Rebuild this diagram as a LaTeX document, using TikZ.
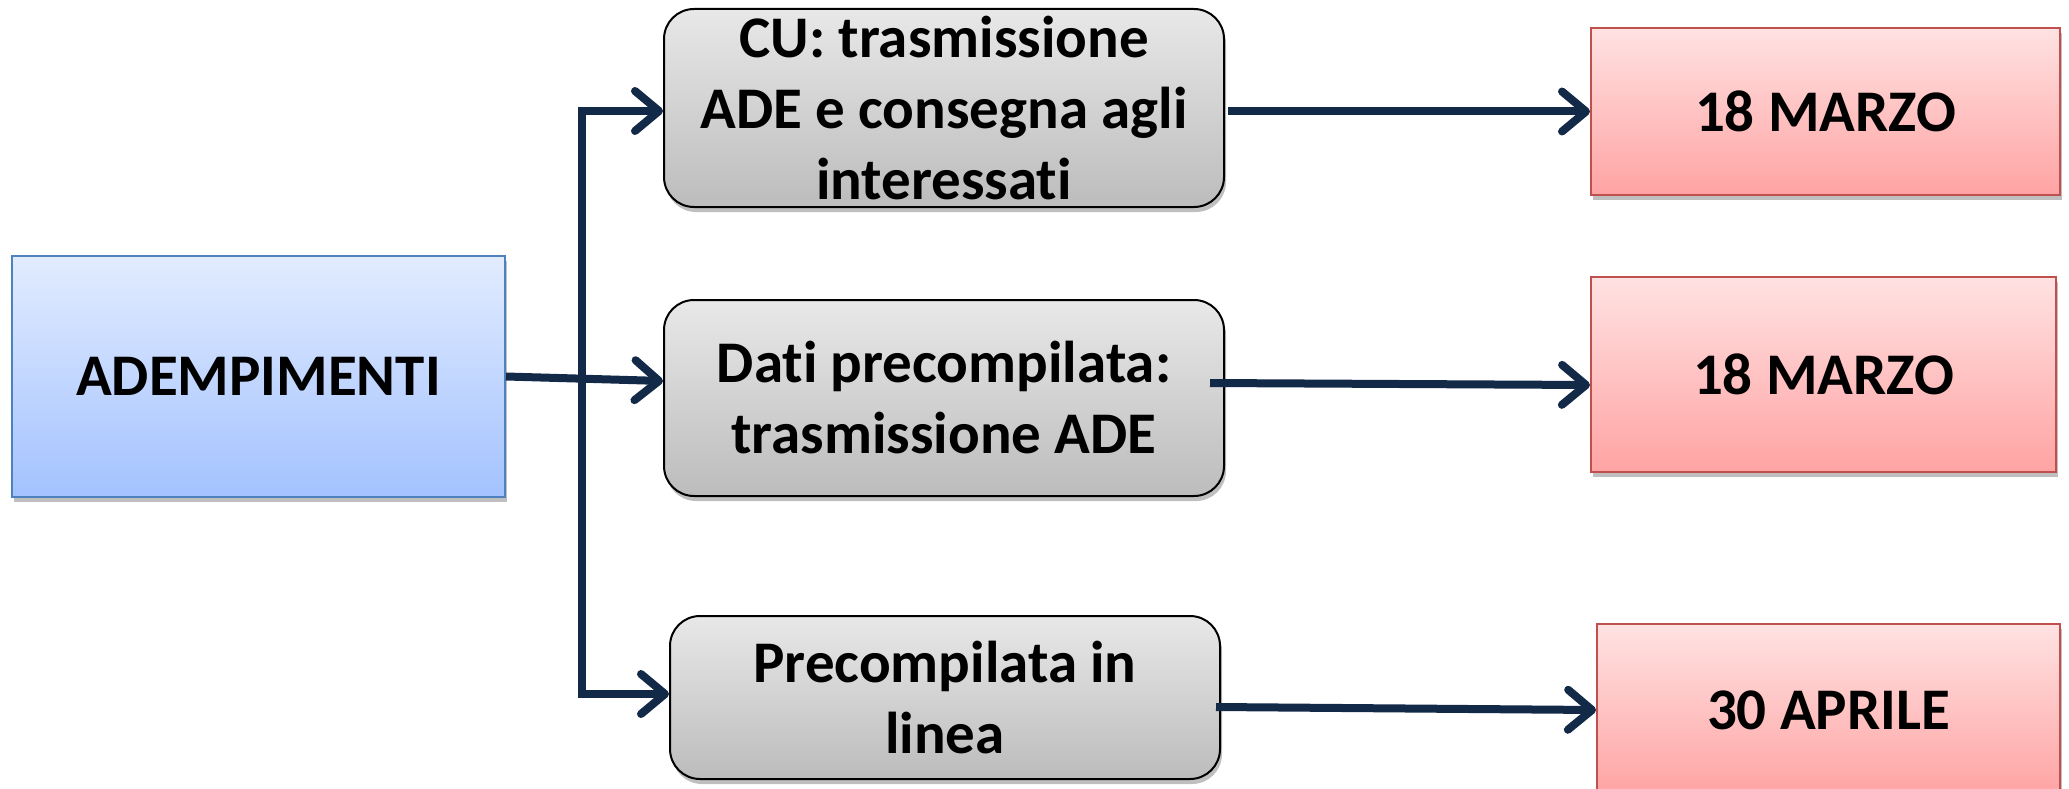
\documentclass[tikz,border=0pt]{standalone}
\usepackage{fontspec}
\setmainfont[Ligatures={NoCommon}]{Carlito}
\usetikzlibrary{arrows.meta,shadows}
\definecolor{navy}{RGB}{19,41,72}
\definecolor{bluetop}{RGB}{226,236,255}
\definecolor{bluebot}{RGB}{163,194,255}
\definecolor{blueline}{RGB}{79,129,189}
\definecolor{graytop}{RGB}{232,232,232}
\definecolor{graybot}{RGB}{188,188,188}
\definecolor{redtop}{RGB}{255,226,226}
\definecolor{redbot}{RGB}{255,163,163}
\definecolor{redline}{RGB}{192,80,77}
\tikzset{
  txt/.style={font=\bfseries\fontsize{59}{71}\selectfont, align=center, inner sep=0pt, text=black},
  shad/.style={drop shadow={shadow xshift=2pt, shadow yshift=-5pt, opacity=0.25, fill=black}},
  bluebox/.style={txt, shad, draw=blueline, line width=2pt, top color=bluetop, bottom color=bluebot},
  graybox/.style={txt, shad, draw=black, line width=2pt, rounded corners=30pt, top color=graytop, bottom color=graybot},
  redbox/.style={txt, shad, draw=redline, line width=2pt, top color=redtop, bottom color=redbot},
  conn/.style={draw=navy, line width=8pt},
  arr/.style={conn, -{Straight Barb[length=24pt,width=40pt,round]}}
}
\begin{document}
\begin{tikzpicture}[x=1pt,y=-1pt]
\useasboundingbox (0,0) rectangle (2069,789);
\node[bluebox, minimum width=493pt, minimum height=241pt] (A) at (258.5,376.5) {ADEMPIMENTI};
\node[graybox, minimum width=560pt, minimum height=198pt] (B1) at (944,108) {CU: trasmissione\\ADE e consegna agli\\interessati};
\node[graybox, minimum width=560pt, minimum height=196pt] (B2) at (944,398) {Dati precompilata:\\trasmissione ADE};
\node[graybox, minimum width=550pt, minimum height=163pt] (B3) at (945,697.5) {Precompilata in\\linea};
\node[redbox, minimum width=469pt, minimum height=167pt] (R1) at (1825.5,111.5) {18 MARZO};
\node[redbox, minimum width=465pt, minimum height=195pt] (R2) at (1823.5,374.5) {18 MARZO};
\node[redbox, minimum width=463pt, minimum height=172pt] (R3) at (1828.5,710) {30 APRILE};
\coordinate (jt) at (582,111);
\coordinate (jb) at (582,694);
\draw[conn, line cap=rect] (jt) -- (jb);
\draw[arr] (jt) -- (B1.west |- jt);
\draw[arr] (jb) -- (B3.west |- jb);
\draw[arr] (A.east) -- ([yshift=17pt]B2.west);
\draw[arr] ([xshift=3pt]B1.east |- R1.west) -- (R1.west);
\draw[arr] ([xshift=-15pt,yshift=15pt]B2.east) -- ([yshift=-10.5pt]R2.west);
\draw[arr] ([xshift=-5pt,yshift=-9.5pt]B3.east) -- (R3.west);
\end{tikzpicture}
\end{document}
